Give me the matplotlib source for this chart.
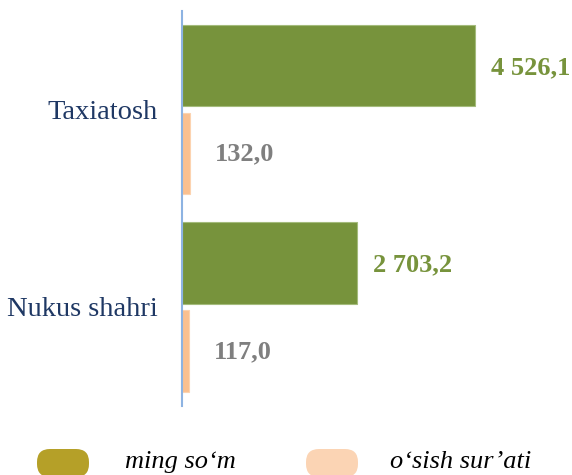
import matplotlib
matplotlib.use('Agg')
import matplotlib.pyplot as plt
from matplotlib.patches import FancyBboxPatch

# data
regions = ['Taxiatosh', 'Nukus shahri']
ming_som = [4526.1, 2703.2]
osish = [132.0, 117.0]
ming_labels = ['4 526,1', '2 703,2']
osish_labels = ['132,0', '117,0']
legend_names = ['ming so\u2018m', 'o\u2018sish sur\u2019ati']

green = '#77933c'
peach = '#fac090'
serif = ['Liberation Serif', 'DejaVu Serif']

W, H = 572, 475
fig = plt.figure(figsize=(W / 100, H / 100), dpi=100)
ax = fig.add_axes([181.7 / W, 1 - 405.6 / H, (W - 181.7) / W, (405.6 - 10.8) / H])

y = list(range(len(regions)))
off = 0.223
h = 0.415
ax.barh([v - off for v in y], ming_som, height=h, color=green, edgecolor='#a4bb7c', linewidth=0.8)
ax.barh([v + off for v in y], osish, height=h, color=peach, edgecolor='#fcd3b0', linewidth=0.8)

ax.set_xlim(0, 390.3 / 293 * 4526.1)
ax.set_ylim(-0.5, len(regions) - 0.5)
ax.invert_yaxis()

for i in y:
    ax.annotate(ming_labels[i], (ming_som[i], i - off), xytext=(12, -1.5), textcoords='offset points',
                va='center', ha='left', fontsize=19, fontweight='bold', color=green, family=serif)
    ax.annotate(osish_labels[i], (osish[i], i + off), xytext=(17.5, -0.5), textcoords='offset points',
                va='center', ha='left', fontsize=19, fontweight='bold', color='#7f7f7f', family=serif)

ax.set_yticks(y)
ax.set_yticklabels(regions, fontsize=20.5, color='#1f3864', family=serif)
ax.tick_params(axis='y', length=0, pad=17)
ax.set_xticks([])
for s in ['top', 'right', 'bottom']:
    ax.spines[s].set_visible(False)
ax.spines['left'].set_color('#8db3e2')
ax.spines['left'].set_linewidth(1.5)

# legend, drawn in pixel coordinates
lax = fig.add_axes([0, 0, 1, 1], zorder=-1)
lax.set_xlim(0, W)
lax.set_ylim(H, 0)
lax.axis('off')
leg_colors = ['#b5a028', '#fbd4b4']
leg_x = [37, 306]
txt_x = [125, 390]
for name, c, px, tx in zip(legend_names, leg_colors, leg_x, txt_x):
    pill = FancyBboxPatch((px, 449), 52, 28, boxstyle='round,pad=0,rounding_size=13',
                          facecolor=c, edgecolor='none')
    lax.add_patch(pill)
    lax.text(tx, 468, name, fontsize=19, style='italic', color='black',
             family=serif, va='baseline', ha='left')

fig.savefig('out.png', dpi=100)
